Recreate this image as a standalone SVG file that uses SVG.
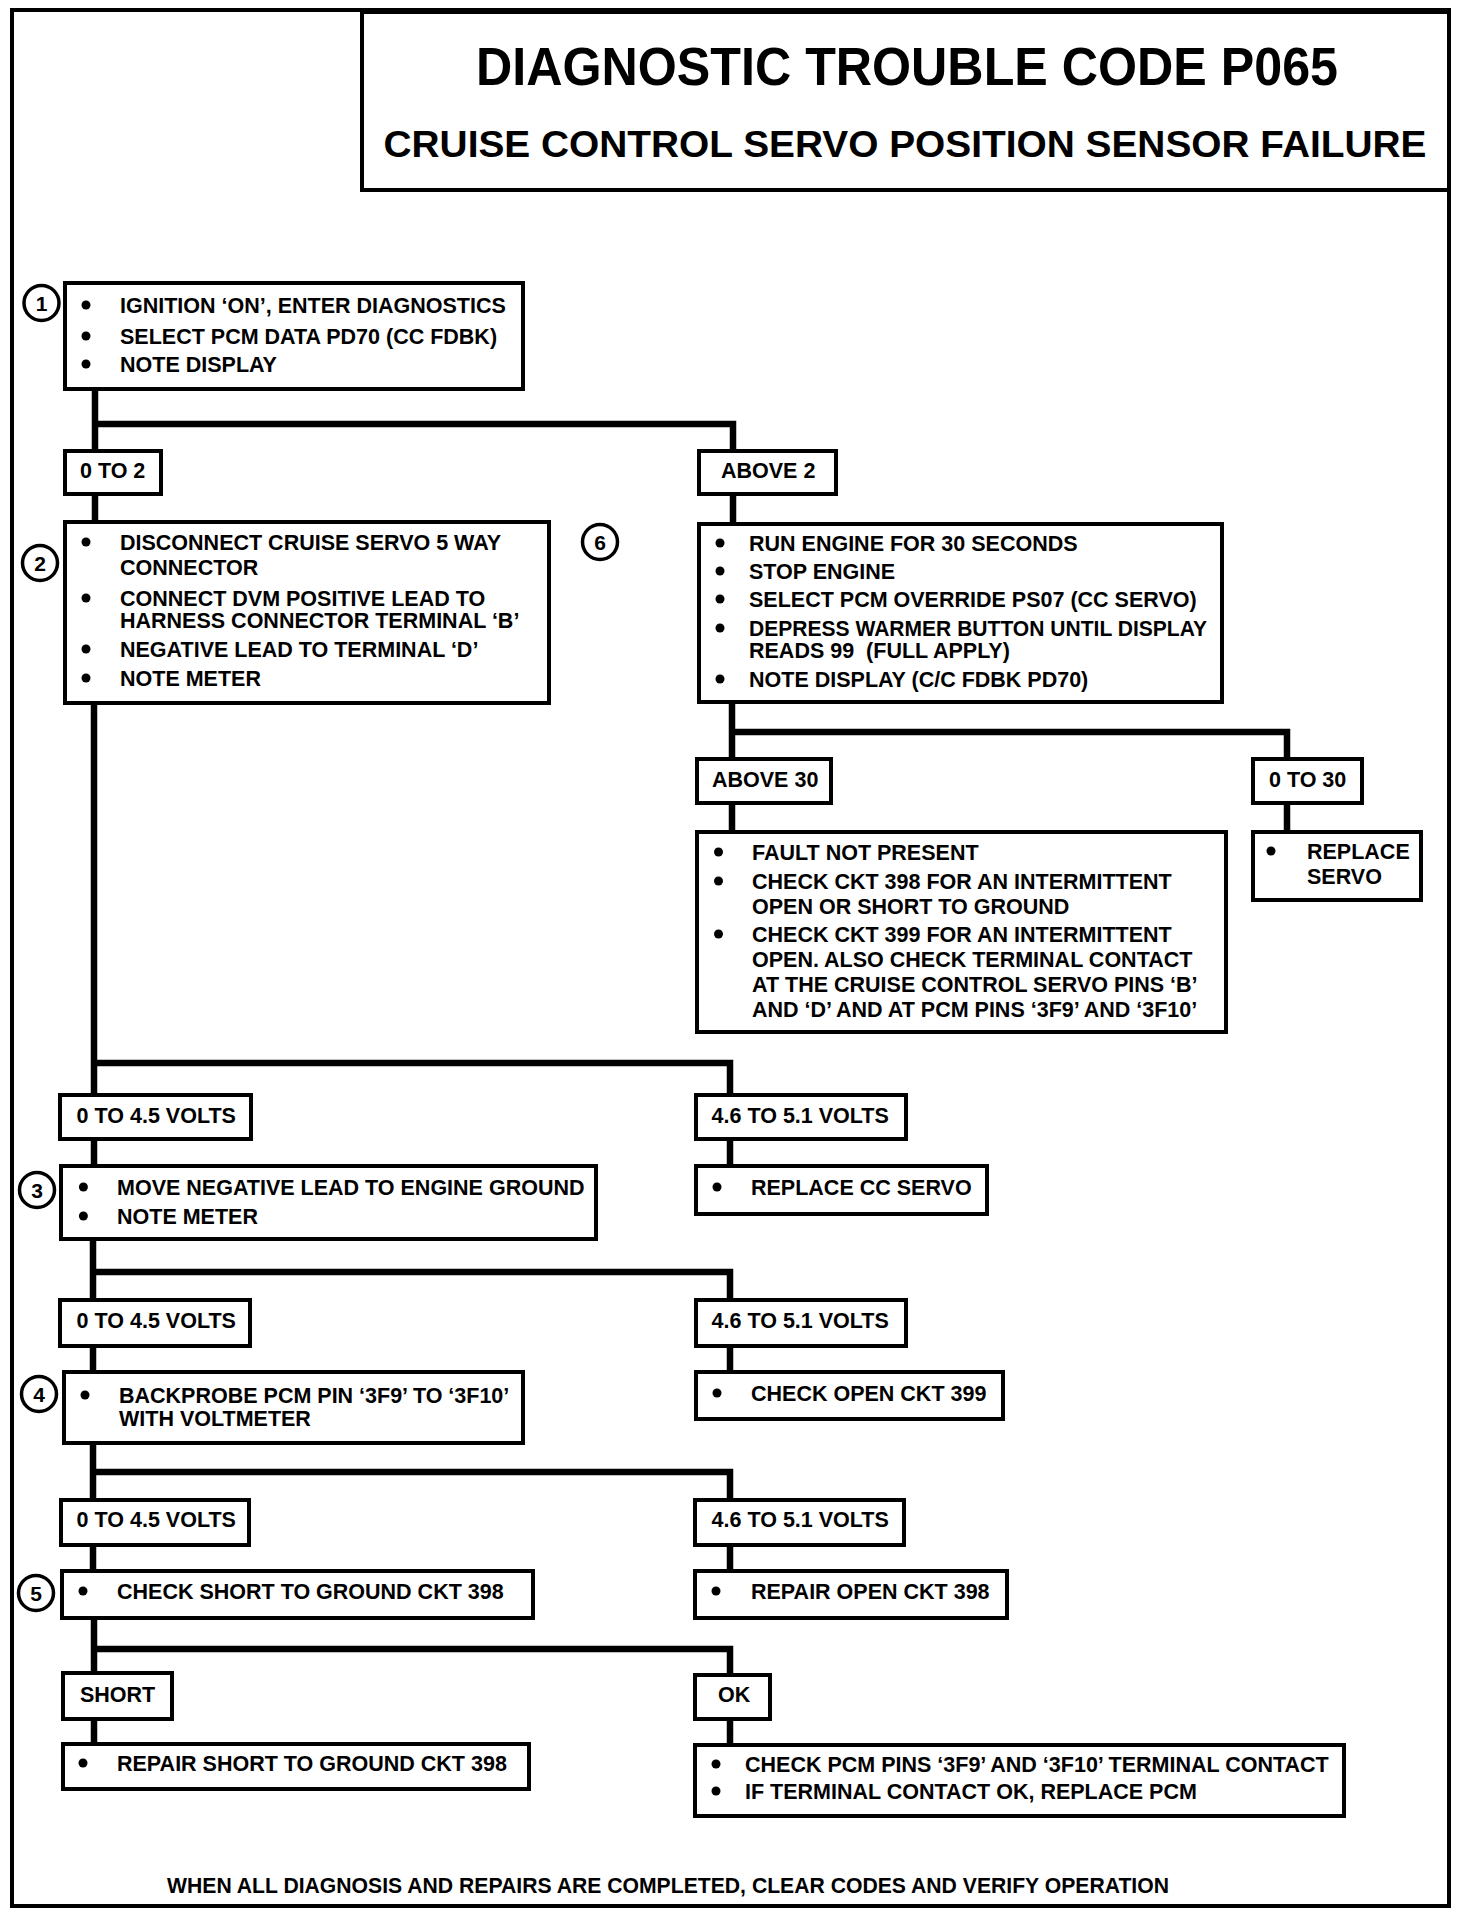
<svg xmlns="http://www.w3.org/2000/svg" width="1472" height="1916" viewBox="0 0 1472 1916">
<style>
.frame{fill:none;stroke:#000;stroke-width:4}
.box{fill:#fff;stroke:#000;stroke-width:4}
.conn{fill:none;stroke:#000;stroke-width:6.5;stroke-linejoin:miter;stroke-linecap:butt}
.circ{fill:#fff;stroke:#000;stroke-width:3.5}
.t{font-family:"Liberation Sans",Arial,Helvetica,sans-serif;font-weight:bold;font-size:21.5px;fill:#000}
.num{font-family:"Liberation Sans",Arial,Helvetica,sans-serif;font-weight:bold;font-size:21px;fill:#000;text-anchor:middle}
.title{font-family:"Liberation Sans",Arial,Helvetica,sans-serif;font-weight:bold;fill:#000}
.b{fill:#000}
</style>
<rect width="1472" height="1916" fill="#fff"/>
<rect class="frame" x="12" y="10" width="1437" height="1896"/>

<g id="title">
<rect class="box" x="362" y="12" width="1087" height="178"/>
<text class="title" x="907" y="85" font-size="53" text-anchor="middle" textLength="862" lengthAdjust="spacingAndGlyphs">DIAGNOSTIC TROUBLE CODE P065</text>
<text class="title" x="905" y="157" font-size="37" text-anchor="middle" textLength="1043" lengthAdjust="spacingAndGlyphs">CRUISE CONTROL SERVO POSITION SENSOR FAILURE</text>
</g>

<g id="connectors">
<path class="conn" d="M95 391V449M95 424H733V450M95 496V520M733 496V523"/>
<path class="conn" d="M732 702V757M732 732H1287V757M732 804V831M1287 804V831"/>
<path class="conn" d="M94 705V1094M94 1063H730V1094M94 1140V1165M730 1140V1165"/>
<path class="conn" d="M93 1240V1299M93 1272H730V1299M93 1347V1371M730 1348V1371"/>
<path class="conn" d="M93 1444V1499M93 1472H730V1499M93 1546V1570M730 1546V1570"/>
<path class="conn" d="M94 1619V1671M94 1649H730V1673M94 1721V1742M730 1721V1743"/>
</g>

<g id="step1">
<circle class="circ" cx="41.5" cy="303" r="17.5"/>
<text class="num" x="41.5" y="310.5">1</text>
<rect class="box" x="65" y="283" width="458" height="106"/>
<circle class="b" cx="86" cy="305" r="4.5"/><text class="t" x="120" y="313">IGNITION ‘ON’, ENTER DIAGNOSTICS</text>
<circle class="b" cx="86" cy="336" r="4.5"/><text class="t" x="120" y="344">SELECT PCM DATA PD70 (CC FDBK)</text>
<circle class="b" cx="86" cy="364" r="4.5"/><text class="t" x="120" y="372">NOTE DISPLAY</text>
</g>

<g id="lbl-0to2">
<rect class="box" x="65" y="451" width="96" height="43"/>
<text class="t" x="80" y="478">0 TO 2</text>
</g>
<g id="lbl-above2">
<rect class="box" x="699" y="451" width="137" height="43"/>
<text class="t" x="721" y="478">ABOVE 2</text>
</g>

<g id="step2">
<circle class="circ" cx="40" cy="563" r="17.5"/>
<text class="num" x="40" y="570.5">2</text>
<rect class="box" x="65" y="522" width="484" height="181"/>
<circle class="b" cx="86" cy="542" r="4.5"/><text class="t" x="120" y="550">DISCONNECT CRUISE SERVO 5 WAY</text>
<text class="t" x="120" y="575">CONNECTOR</text>
<circle class="b" cx="86" cy="598" r="4.5"/><text class="t" x="120" y="606">CONNECT DVM POSITIVE LEAD TO</text>
<text class="t" x="120" y="628">HARNESS CONNECTOR TERMINAL ‘B’</text>
<circle class="b" cx="86" cy="649" r="4.5"/><text class="t" x="120" y="657">NEGATIVE LEAD TO TERMINAL ‘D’</text>
<circle class="b" cx="86" cy="678" r="4.5"/><text class="t" x="120" y="686">NOTE METER</text>
</g>

<g id="step6">
<circle class="circ" cx="600" cy="542" r="17.5"/>
<text class="num" x="600" y="549.5">6</text>
<rect class="box" x="699" y="524" width="523" height="178"/>
<circle class="b" cx="720" cy="543" r="4.5"/><text class="t" x="749" y="551">RUN ENGINE FOR 30 SECONDS</text>
<circle class="b" cx="720" cy="571" r="4.5"/><text class="t" x="749" y="579">STOP ENGINE</text>
<circle class="b" cx="720" cy="599" r="4.5"/><text class="t" x="749" y="607">SELECT PCM OVERRIDE PS07 (CC SERVO)</text>
<circle class="b" cx="720" cy="628" r="4.5"/><text class="t" x="749" y="636" textLength="458" lengthAdjust="spacingAndGlyphs">DEPRESS WARMER BUTTON UNTIL DISPLAY</text>
<text class="t" x="749" y="658" style="white-space:pre">READS 99  (FULL APPLY)</text>
<circle class="b" cx="720" cy="679" r="4.5"/><text class="t" x="749" y="687">NOTE DISPLAY (C/C FDBK PD70)</text>
</g>

<g id="lbl-above30">
<rect class="box" x="697" y="759" width="134" height="44"/>
<text class="t" x="712" y="787">ABOVE 30</text>
</g>
<g id="lbl-0to30">
<rect class="box" x="1253" y="759" width="109" height="44"/>
<text class="t" x="1269" y="787">0 TO 30</text>
</g>

<g id="fault-not-present">
<rect class="box" x="697" y="832" width="529" height="200"/>
<circle class="b" cx="718.5" cy="852" r="4.5"/><text class="t" x="752" y="860">FAULT NOT PRESENT</text>
<circle class="b" cx="718.5" cy="881" r="4.5"/><text class="t" x="752" y="889">CHECK CKT 398 FOR AN INTERMITTENT</text>
<text class="t" x="752" y="914">OPEN OR SHORT TO GROUND</text>
<circle class="b" cx="718.5" cy="934" r="4.5"/><text class="t" x="752" y="942">CHECK CKT 399 FOR AN INTERMITTENT</text>
<text class="t" x="752" y="967">OPEN. ALSO CHECK TERMINAL CONTACT</text>
<text class="t" x="752" y="992">AT THE CRUISE CONTROL SERVO PINS ‘B’</text>
<text class="t" x="752" y="1017">AND ‘D’ AND AT PCM PINS ‘3F9’ AND ‘3F10’</text>
</g>

<g id="replace-servo">
<rect class="box" x="1253" y="832" width="168" height="68"/>
<circle class="b" cx="1271" cy="851" r="4.5"/><text class="t" x="1307" y="859">REPLACE</text>
<text class="t" x="1307" y="884">SERVO</text>
</g>

<g id="lbl-r3-low">
<rect class="box" x="60" y="1095" width="191" height="44"/>
<text class="t" x="76.6" y="1123">0 TO 4.5 VOLTS</text>
</g>
<g id="lbl-r3-high">
<rect class="box" x="696" y="1095" width="210" height="44"/>
<text class="t" x="711.6" y="1123">4.6 TO 5.1 VOLTS</text>
</g>

<g id="step3">
<circle class="circ" cx="37" cy="1190" r="17.5"/>
<text class="num" x="37" y="1197.5">3</text>
<rect class="box" x="61" y="1166" width="535" height="73"/>
<circle class="b" cx="83.4" cy="1187" r="4.5"/><text class="t" x="117" y="1195">MOVE NEGATIVE LEAD TO ENGINE GROUND</text>
<circle class="b" cx="83.4" cy="1216" r="4.5"/><text class="t" x="117" y="1224">NOTE METER</text>
</g>

<g id="replace-cc-servo">
<rect class="box" x="696" y="1166" width="291" height="48"/>
<circle class="b" cx="717" cy="1187" r="4.5"/><text class="t" x="751" y="1195">REPLACE CC SERVO</text>
</g>

<g id="lbl-r4-low">
<rect class="box" x="60" y="1300" width="190" height="46"/>
<text class="t" x="76.6" y="1328">0 TO 4.5 VOLTS</text>
</g>
<g id="lbl-r4-high">
<rect class="box" x="696" y="1300" width="210" height="46"/>
<text class="t" x="711.6" y="1328">4.6 TO 5.1 VOLTS</text>
</g>

<g id="step4">
<circle class="circ" cx="39" cy="1394" r="17.5"/>
<text class="num" x="39" y="1401.5">4</text>
<rect class="box" x="64" y="1372" width="459" height="71"/>
<circle class="b" cx="85" cy="1395" r="4.5"/><text class="t" x="119" y="1403">BACKPROBE PCM PIN ‘3F9’ TO ‘3F10’</text>
<text class="t" x="119" y="1426">WITH VOLTMETER</text>
</g>

<g id="check-open-399">
<rect class="box" x="696" y="1372" width="307" height="47"/>
<circle class="b" cx="717" cy="1393" r="4.5"/><text class="t" x="751" y="1401">CHECK OPEN CKT 399</text>
</g>

<g id="lbl-r5-low">
<rect class="box" x="61" y="1500" width="188" height="45"/>
<text class="t" x="76.6" y="1527">0 TO 4.5 VOLTS</text>
</g>
<g id="lbl-r5-high">
<rect class="box" x="695" y="1500" width="209" height="45"/>
<text class="t" x="711.6" y="1527">4.6 TO 5.1 VOLTS</text>
</g>

<g id="step5">
<circle class="circ" cx="36" cy="1593" r="17.5"/>
<text class="num" x="36" y="1600.5">5</text>
<rect class="box" x="62" y="1571" width="471" height="47"/>
<circle class="b" cx="83" cy="1591" r="4.5"/><text class="t" x="117" y="1599">CHECK SHORT TO GROUND CKT 398</text>
</g>

<g id="repair-open-398">
<rect class="box" x="695" y="1571" width="312" height="47"/>
<circle class="b" cx="716" cy="1591" r="4.5"/><text class="t" x="751" y="1599">REPAIR OPEN CKT 398</text>
</g>

<g id="lbl-short">
<rect class="box" x="63" y="1673" width="109" height="46"/>
<text class="t" x="80" y="1702">SHORT</text>
</g>
<g id="lbl-ok">
<rect class="box" x="695" y="1675" width="75" height="44"/>
<text class="t" x="718" y="1702">OK</text>
</g>

<g id="repair-short-398">
<rect class="box" x="63" y="1744" width="466" height="45"/>
<circle class="b" cx="83" cy="1763" r="4.5"/><text class="t" x="117" y="1771">REPAIR SHORT TO GROUND CKT 398</text>
</g>

<g id="check-pcm-pins">
<rect class="box" x="695" y="1745" width="649" height="71"/>
<circle class="b" cx="716" cy="1764" r="4.5"/><text class="t" x="745" y="1772">CHECK PCM PINS ‘3F9’ AND ‘3F10’ TERMINAL CONTACT</text>
<circle class="b" cx="716" cy="1791" r="4.5"/><text class="t" x="745" y="1799">IF TERMINAL CONTACT OK, REPLACE PCM</text>
</g>

<g id="footer">
<text class="t" x="167" y="1893" font-size="20" textLength="1002" lengthAdjust="spacingAndGlyphs">WHEN ALL DIAGNOSIS AND REPAIRS ARE COMPLETED, CLEAR CODES AND VERIFY OPERATION</text>
</g>
</svg>
